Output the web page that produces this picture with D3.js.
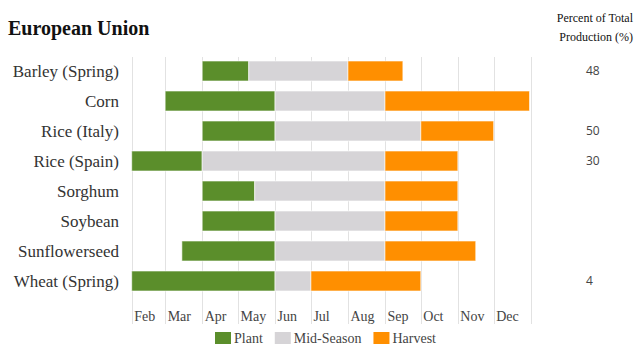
<!DOCTYPE html>
<html lang="en">
<head>
    <meta charset="UTF-8">
    <title>crop_calendar</title>
    <script src="https://d3js.org/d3.v7.min.js"></script>
    <style>
        body {
            margin: 0;
            background: #fff;
        }
    </style>
</head>
<body>
    <div id="chart"></div>
    <script>
        const width = 642;
        const height = 361;
        const serif = "'Liberation Serif', 'Times New Roman', serif";
        const sans = "'Open Sans', 'DejaVu Sans', sans-serif";

        // crop calendar (month-day strings)
        const crops = ["Barley (Spring)", "Corn", "Rice (Italy)", "Rice (Spain)", "Sorghum", "Soybean", "Sunflowerseed", "Wheat (Spring)"];
        const plantStart   = ["04-01", "03-01", "04-01", "02-01", "04-01", "04-01", "03-15", "02-01"];
        const plantEnd     = ["05-10", "06-01", "06-01", "04-01", "05-15", "06-01", "06-01", "06-01"];
        const harvestStart = ["08-01", "09-01", "10-01", "09-01", "09-01", "09-01", "09-01", "07-01"];
        const harvestEnd   = ["09-16", "12-31", "12-01", "11-01", "11-01", "11-01", "11-16", "10-01"];
        const percents     = ["48", "", "50", "30", "", "", "", "4"];

        const phases = ["Plant", "Mid-Season", "Harvest"];
        const colors = ["#5b8e2b", "#d6d4d7", "#ff8f00"];

        const toDate = s => new Date(Date.UTC(2021, +s.slice(0, 2) - 1, +s.slice(3, 5)));

        const svg = d3.select("#chart")
            .append("svg")
            .attr("width", width)
            .attr("height", height);

        const x = d3.scaleUtc()
            .domain([new Date(Date.UTC(2021, 1, 1)), new Date(Date.UTC(2022, 0, 1))])
            .range([131.7, 530.7]);

        const y = d3.scaleBand()
            .domain(crops)
            .range([56, 296])
            .paddingInner(1 / 3)
            .paddingOuter(1 / 6);

        // title
        svg.append("text")
            .attr("x", 8)
            .attr("y", 35)
            .style("font-family", serif)
            .style("font-size", "20px")
            .style("font-weight", "bold")
            .style("fill", "#111")
            .text("European Union");

        svg.append("text")
            .attr("text-anchor", "end")
            .attr("x", 633)
            .attr("y", 22)
            .style("font-family", serif)
            .style("font-size", "12px")
            .style("fill", "#111")
            .text("Percent of Total");

        svg.append("text")
            .attr("text-anchor", "end")
            .attr("x", 633)
            .attr("y", 41)
            .style("font-family", serif)
            .style("font-size", "12px")
            .style("fill", "#111")
            .text("Production (%)");

        // month grid lines
        const monthEdges = d3.utcMonth.range(x.domain()[0], d3.utcDay.offset(x.domain()[1], 1));
        svg.append("g")
            .selectAll("line")
            .data(monthEdges)
            .enter()
            .append("line")
            .attr("x1", d => Math.round(x(d)) + 0.5)
            .attr("x2", d => Math.round(x(d)) + 0.5)
            .attr("y1", 57)
            .attr("y2", 324)
            .attr("stroke", "#e2e2e2")
            .attr("stroke-width", 1);

        // month labels
        svg.append("g")
            .selectAll("text")
            .data(d3.utcMonth.range(x.domain()[0], x.domain()[1]))
            .enter()
            .append("text")
            .attr("x", d => x(d) + 2.5)
            .attr("y", 321)
            .style("font-family", serif)
            .style("font-size", "14px")
            .style("fill", "#444")
            .text(d => d3.utcFormat("%b")(d));

        // crop labels
        svg.append("g")
            .selectAll("text")
            .data(crops)
            .enter()
            .append("text")
            .attr("text-anchor", "end")
            .attr("x", 119)
            .attr("y", d => y(d) + y.bandwidth() / 2)
            .attr("dy", "0.35em")
            .style("font-family", serif)
            .style("font-size", "17px")
            .style("fill", "#333")
            .text(d => d);

        // segments
        const segments = [];
        crops.forEach((c, i) => {
            segments.push({crop: c, phase: 0, start: toDate(plantStart[i]), end: toDate(plantEnd[i])});
            segments.push({crop: c, phase: 1, start: toDate(plantEnd[i]), end: toDate(harvestStart[i])});
            segments.push({crop: c, phase: 2, start: toDate(harvestStart[i]), end: toDate(harvestEnd[i])});
        });

        svg.append("g")
            .selectAll("rect")
            .data(segments)
            .enter()
            .append("rect")
            .attr("x", d => x(d.start))
            .attr("y", d => y(d.crop))
            .attr("width", d => x(d.end) - x(d.start))
            .attr("height", y.bandwidth())
            .attr("fill", d => colors[d.phase])
            .attr("stroke", "#fff")
            .attr("stroke-opacity", 0.6)
            .attr("stroke-width", 1);

        // percent column
        svg.append("g")
            .selectAll("text")
            .data(crops)
            .enter()
            .append("text")
            .attr("x", 586)
            .attr("y", d => y(d) + y.bandwidth() / 2)
            .attr("dy", "0.35em")
            .style("font-family", sans)
            .style("font-size", "12px")
            .style("fill", "#444")
            .text((d, i) => percents[i]);

        // legend
        const legend = svg.append("g");
        let lx = 0;
        phases.forEach((p, i) => {
            legend.append("rect")
                .attr("x", lx)
                .attr("y", 332)
                .attr("width", 16)
                .attr("height", 12)
                .attr("fill", colors[i]);
            const t = legend.append("text")
                .attr("x", lx + 19)
                .attr("y", 343)
                .style("font-family", serif)
                .style("font-size", "14px")
                .style("fill", "#444")
                .text(p);
            lx += 19 + t.node().getComputedTextLength() + 12;
        });
        const legendWidth = lx - 12;
        legend.attr("transform", `translate(${325.5 - legendWidth / 2}, 0)`);
    </script>
</body>
</html>
